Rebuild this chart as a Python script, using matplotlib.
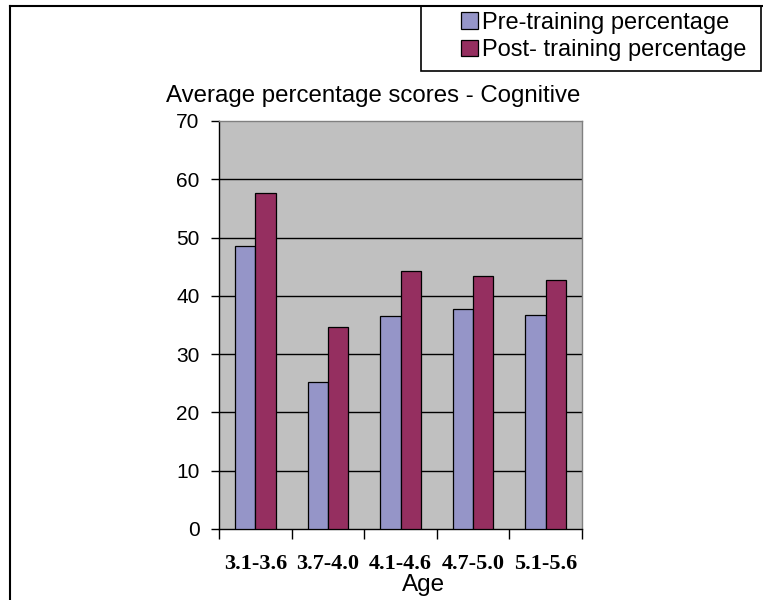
import matplotlib.pyplot as plt
import numpy as np
from matplotlib.patches import Rectangle
from matplotlib.lines import Line2D

ages = ['3.1-3.6', '3.7-4.0', '4.1-4.6', '4.7-5.0', '5.1-5.6']
pre_training = [48.5, 25.3, 36.5, 37.7, 36.8]
post_training = [57.7, 34.6, 44.3, 43.4, 42.8]
series_names = ['Pre-training percentage', 'Post- training percentage']

W, H = 763, 600
fig = plt.figure(figsize=(W / 100, H / 100), dpi=100)
plt.rcParams['font.family'] = ['Liberation Sans', 'DejaVu Sans']

def fx(px):
    return px / W

def fy(py):
    return 1 - py / H

ax = fig.add_axes([fx(219), fy(529), fx(582) - fx(219), fy(121) - fy(529)])
ax.set_facecolor('#C0C0C0')

x = np.arange(len(ages))
w = 0.28
b1 = ax.bar(x - w / 2, pre_training, w, color='#9595C8', edgecolor='black', linewidth=0.9, zorder=3)
b2 = ax.bar(x + w / 2, post_training, w, color='#952F60', edgecolor='black', linewidth=0.9, zorder=3)

ax.set_xlim(-0.5, len(ages) - 0.5)
ax.set_ylim(0, 70)
ax.set_yticks(np.arange(0, 71, 10))
ax.tick_params(axis='y', labelsize=15, length=6, width=1, direction='out', pad=8)
for t in np.arange(10, 61, 10):
    ax.axhline(t, color='black', linewidth=1, zorder=1)

# category labels centered, ticks at boundaries
ax.set_xticks(x)
ax.set_xticklabels(ages, fontfamily='Liberation Serif', fontweight='bold', fontsize=16)
ax.tick_params(axis='x', which='major', length=0, pad=18)
ax.set_xticks(np.arange(-0.5, len(ages), 1), minor=True)
ax.tick_params(axis='x', which='minor', length=7, width=1, direction='out')

ax.spines['left'].set_color('black')
ax.spines['bottom'].set_color('black')
ax.spines['top'].set_color('#808080')
ax.spines['right'].set_color('#808080')
for s in ax.spines.values():
    s.set_linewidth(1)

fig.text(fx(373), fy(96), 'Average percentage scores - Cognitive', ha='center', va='center', fontsize=17.3)
fig.text(fx(424), fy(585), 'Age', ha='center', va='center', fontsize=17.5)

# outer chart frame
fig.add_artist(Line2D([fx(10), 1], [fy(6), fy(6)], color='black', linewidth=1.5))
fig.add_artist(Line2D([fx(10), fx(10)], [fy(6), 0], color='black', linewidth=1.5))

# legend box
fig.add_artist(Rectangle((fx(421), fy(71)), fx(761) - fx(421), fy(6) - fy(71),
                         transform=fig.transFigure, facecolor='white', edgecolor='black', linewidth=1.2))
fig.legend([b1, b2], series_names, loc='upper left', bbox_to_anchor=(fx(461), fy(12)),
           frameon=False, fontsize=17, handlelength=0.7, handleheight=0.7,
           handletextpad=0.2, labelspacing=0.22, borderpad=0.0, borderaxespad=0)

fig.savefig('out.png', dpi=100)
